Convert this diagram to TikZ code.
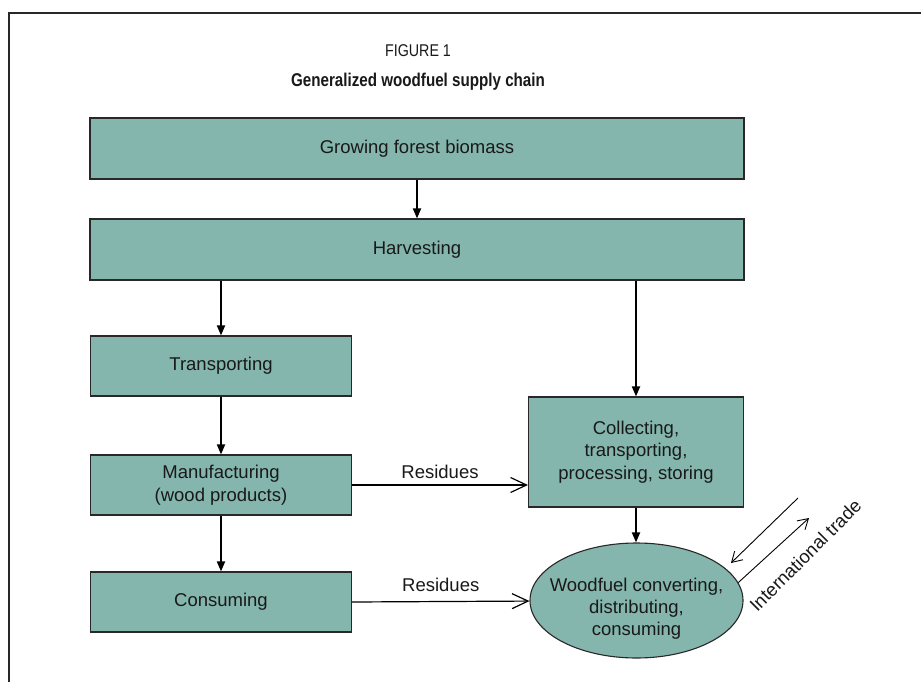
\documentclass[tikz,border=0pt]{standalone}
\usepackage{graphicx}
\usepackage{fontspec}
\setmainfont{Liberation Sans}
\usetikzlibrary{arrows.meta,shapes.geometric}
\definecolor{boxfill}{RGB}{132,182,173}
\definecolor{edge}{RGB}{40,40,40}
\definecolor{ink}{RGB}{25,25,25}

\begin{document}
\begin{tikzpicture}[x=1pt,y=-1pt,
  stage/.style={draw=edge, line width=1.1pt, fill=boxfill, text=ink,
    font=\fontsize{18.5}{22.5}\selectfont, align=center, inner sep=0pt},
  flow/.style={line width=1.8pt, -{Triangle[length=10pt,width=8pt]}},
  residue/.style={line width=1.2pt, -{Straight Barb[length=16pt,width=15pt]}},
  trade/.style={line width=0.9pt, -{Straight Barb[length=10pt,width=12pt]}},
  lbl/.style={text=ink, font=\fontsize{18.5}{22}\selectfont, inner sep=0pt}]
\useasboundingbox (0,0) rectangle (921,682);
\fill[white] (0,0) rectangle (921,682);
% frame of the figure panel
\draw[edge, line width=1.1pt] (9,682) -- (9,13) -- (921,13);

% heading (narrow type)
\node[lbl, font=\fontsize{17}{19}\selectfont] (fig) at (418,51) {\scalebox{0.84}[1]{FIGURE 1}};
\node[lbl, font=\bfseries\fontsize{18.5}{20}\selectfont] (title) at (418,82) {\scalebox{0.82}[1]{Generalized woodfuel supply chain}};

% stages
\node[stage, minimum width=654pt, minimum height=61pt] (grow) at (417,148.5) {Growing forest biomass};
\node[stage, minimum width=654pt, minimum height=61pt] (harv) at (417,249.5) {Harvesting};
\node[stage, minimum width=261pt, minimum height=60pt] (trans) at (221,366) {Transporting};
\node[stage, minimum width=261pt, minimum height=60pt] (manu) at (221,485) {Manufacturing\\(wood products)};
\node[stage, minimum width=261pt, minimum height=60pt] (cons) at (221,602) {Consuming};
\node[stage, minimum width=215pt, minimum height=110pt] (coll) at (636,452) {Collecting,\\transporting,\\processing, storing};
\node[stage, ellipse, minimum width=213pt, minimum height=115pt] (ell) at (636.5,600.5) {};
\node[lbl, align=center] (elltext) at (636.5,609) {Woodfuel converting,\\distributing,\\consuming};

% main flow
\draw[flow] (grow) -- (harv);
\draw[flow] (trans.north |- harv.south) -- (trans.north);
\draw[flow] (trans) -- (manu);
\draw[flow] (manu) -- (cons);
\draw[flow] (coll.north |- harv.south) -- (coll.north);
\draw[flow] (coll.south) -- (coll.south |- ell.north);

% residue streams
\draw[residue] (manu.east) -- node[lbl, above=6pt] {Residues} (manu.east -| coll.west);
\draw[residue] (cons.east) -- node[lbl, above=9pt] {Residues} (ell);

% international trade
\coordinate (inA) at (798,498);
\coordinate (inB) at (731,563);
\coordinate (outB) at (809,518);
\draw[trade] (inA) -- (inB);
\draw[trade] (ell.10) -- (outB);
\node[lbl, anchor=base, rotate=45] (trade) at (810,560) {International trade};
\end{tikzpicture}
\end{document}
